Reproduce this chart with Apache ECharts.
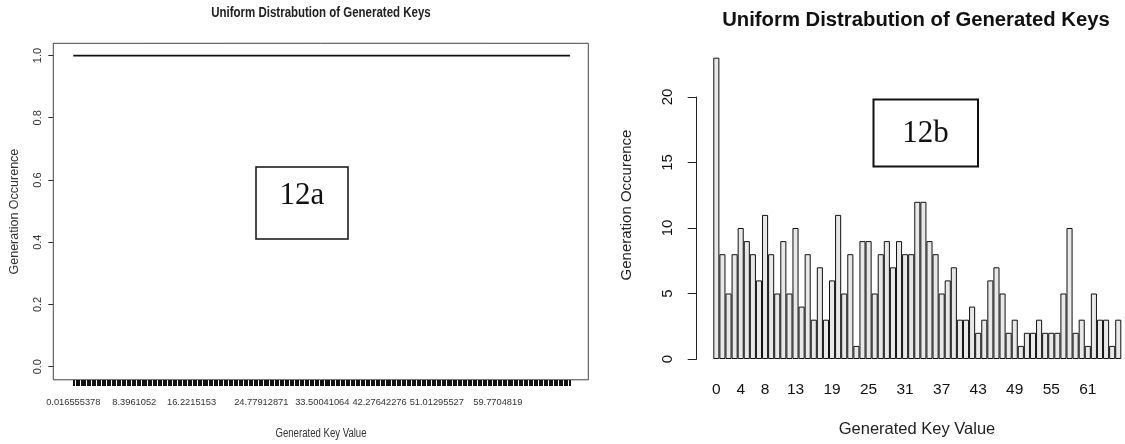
<!DOCTYPE html>
<html>
<head>
<meta charset="utf-8">
<script src="https://cdn.jsdelivr.net/npm/echarts@6/dist/echarts.min.js"></script>
<style>
html,body{margin:0;padding:0;background:#fff;}
#chart{width:1125px;height:444px;}
</style>
</head>
<body>
<div id="chart"></div>
<script>
// ---------- 12a : every generated key occurs once ----------
const keyCount = 400;                       // number of generated keys
const occurrence = 1;                       // each key occurs exactly once
const keyLabelIndex = [0, 49, 95, 151, 200, 246, 292, 341];
const keyLabelText = ['0.016555378', '8.3961052', '16.2215153', '24.77912871',
                      '33.50041064', '42.27642276', '51.01295527', '59.7704819'];

// ---------- 12b : histogram of generated keys ----------
const keyValues = ['0','1','2','3','4','5','6','7','8','9','10','11','12','13','14','15','16','17','18','19',
  '20','21','22','23','24','25','26','27','28','29','30','31','32','33','34','35','36','37','38','39',
  '40','41','42','43','44','45','46','47','48','49','50','51','52','53','54','55','56','57','58','59',
  '60','61','62','63','64','65','66'];
const keyCounts = [23,8,5,8,10,9,8,6,11,8, 5,9,5,10,4,8,3,7,3,6, 11,5,8,1,9,9,5,8,9,7,
  9,8,8,12,12,9,8,5,6,7, 3,3,4,2,3,6,7,5,2,3, 1,2,2,3,2,2,2,5,10,2, 3,1,5,3,3,1,3];
const shownKeyLabels = ['0','4','8','13','19','25','31','37','43','49','55','61'];

const SANS = "'Liberation Sans',Arial,sans-serif";
const SERIF = "'Liberation Serif','Times New Roman',serif";

const chart = echarts.init(document.getElementById('chart'), null, {renderer: 'canvas'});

const option = {
  backgroundColor: '#ffffff',
  animation: false,
  grid: [
    // frame of 12a
    {left: 53.3, top: 43.3, width: 535, height: 336.5, show: true, borderColor: '#444', borderWidth: 1, backgroundColor: 'transparent'},
    // data area of 12a
    {left: 73.3, top: 55.5, width: 496.7, height: 311.2},
    // data area of 12b
    {left: 713.3, top: 97, width: 408, height: 262}
  ],
  xAxis: [
    {gridIndex: 0, type: 'value', show: false, min: 0, max: 1},
    {gridIndex: 1, type: 'value', min: 0, max: keyCount - 1, interval: 1, offset: 13.3,
      axisLine: {show: false, onZero: false},
      axisTick: {show: true, length: 6, inside: false, lineStyle: {color: '#111', width: 1}},
      axisLabel: {show: true, customValues: keyLabelIndex, margin: 18, showMinLabel: true,
        formatter: function (v) { const i = keyLabelIndex.indexOf(Math.round(v)); return i >= 0 ? keyLabelText[i] : ''; },
        fontFamily: SANS, fontSize: 9.3, color: '#333'},
      splitLine: {show: false}},
    {gridIndex: 2, type: 'category', data: keyValues,
      axisLine: {show: false}, axisTick: {show: false},
      axisLabel: {interval: function (i, v) { return shownKeyLabels.indexOf(v) >= 0; },
        fontFamily: SANS, fontSize: 15.5, color: '#111', margin: 23},
      splitLine: {show: false}}
  ],
  yAxis: [
    {gridIndex: 0, type: 'value', show: false, min: 0, max: 1},
    {gridIndex: 1, type: 'value', min: 0, max: 1, interval: 0.2, offset: 20,
      axisLine: {show: false, onZero: false},
      axisTick: {show: true, length: 5, lineStyle: {color: '#333', width: 1}},
      axisLabel: {rotate: 90, margin: 10, fontFamily: SANS, fontSize: 11, color: '#333',
        formatter: function (v) { return v.toFixed(1); }},
      splitLine: {show: false}},
    {gridIndex: 2, type: 'value', min: 0, max: 20, interval: 5, offset: 16.6,
      axisLine: {show: true, onZero: false, lineStyle: {color: '#222', width: 1}},
      axisTick: {show: true, length: 9, lineStyle: {color: '#222', width: 1}},
      axisLabel: {rotate: 90, margin: 21, fontFamily: SANS, fontSize: 15, color: '#111'},
      splitLine: {show: false}}
  ],
  series: [
    {type: 'line', xAxisIndex: 1, yAxisIndex: 1, symbol: 'none',
      data: [[0, occurrence], [keyCount - 1, occurrence]],
      lineStyle: {color: '#111', width: 2}},
    {type: 'bar', xAxisIndex: 2, yAxisIndex: 2, data: keyCounts, clip: false,
      barCategoryGap: '0%', barGap: '0%',
      itemStyle: {color: '#e8e8e8', borderColor: '#111', borderWidth: 1}}
  ],
  graphic: [
    {type: 'text', x: 321, y: 13, scaleX: 0.82, style: {text: 'Uniform Distrabution of Generated Keys', fontFamily: SANS, fontWeight: 'bold', fontSize: 14, fill: '#222', align: 'center', verticalAlign: 'middle'}},
    {type: 'text', x: 15, y: 211.6, rotation: Math.PI / 2, style: {text: 'Generation Occurence', fontFamily: SANS, fontSize: 12.5, fill: '#333', align: 'center', verticalAlign: 'middle'}},
    {type: 'text', x: 321, y: 434, scaleX: 0.8, style: {text: 'Generated Key Value', fontFamily: SANS, fontSize: 12, fill: '#333', align: 'center', verticalAlign: 'middle'}},
    {type: 'rect', shape: {x: 256, y: 167, width: 92, height: 72}, style: {fill: '#fff', stroke: '#111', lineWidth: 1.5}},
    {type: 'text', x: 302, y: 196, style: {text: '12a', fontFamily: SERIF, fontSize: 31, fill: '#111', align: 'center', verticalAlign: 'middle'}},

    {type: 'text', x: 916, y: 20, style: {text: 'Uniform Distrabution of Generated Keys', fontFamily: SANS, fontWeight: 'bold', fontSize: 20.3, fill: '#111', align: 'center', verticalAlign: 'middle'}},
    {type: 'text', x: 626.7, y: 205, rotation: Math.PI / 2, style: {text: 'Generation Occurence', fontFamily: SANS, fontSize: 15, fill: '#222', align: 'center', verticalAlign: 'middle'}},
    {type: 'text', x: 917, y: 429.5, style: {text: 'Generated Key Value', fontFamily: SANS, fontSize: 16.5, fill: '#222', align: 'center', verticalAlign: 'middle'}},
    {type: 'rect', shape: {x: 873.5, y: 99.5, width: 104.5, height: 67}, style: {fill: '#fff', stroke: '#111', lineWidth: 2}},
    {type: 'text', x: 925.5, y: 134, style: {text: '12b', fontFamily: SERIF, fontSize: 31, fill: '#111', align: 'center', verticalAlign: 'middle'}}
  ]
};
chart.setOption(option);
</script>
</body>
</html>
